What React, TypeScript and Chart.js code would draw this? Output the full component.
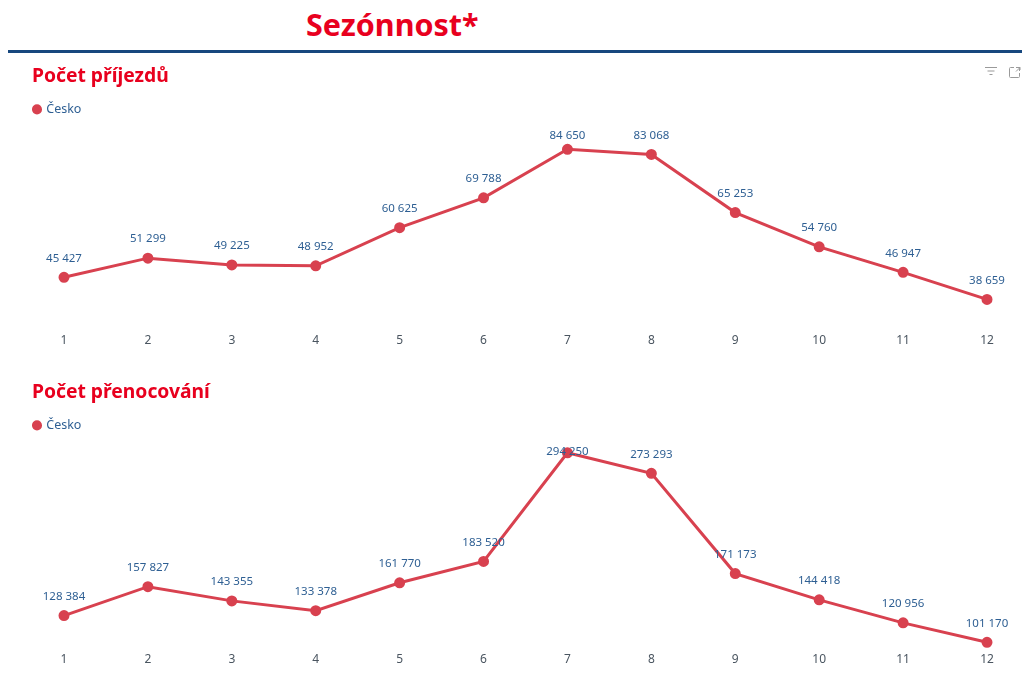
import React, { useEffect, useRef } from "react";
import { Chart, registerables } from "chart.js";

Chart.register(...registerables);

const months = ["1", "2", "3", "4", "5", "6", "7", "8", "9", "10", "11", "12"];
const arrivals = [45427, 51299, 49225, 48952, 60625, 69788, 84650, 83068, 65253, 54760, 46947, 38659];
const overnights = [128384, 157827, 143355, 133378, 161770, 183520, 294250, 273293, 171173, 144418, 120956, 101170];
const seriesName = "Česko";
const pageTitle = "Sezónnost*";
const arrivalsTitle = "Počet příjezdů";
const overnightsTitle = "Počet přenocování";

const FONT = '"Noto Sans", sans-serif';
const RED = "#E8001E";
const LINE = "#D8414F";
const BLUE = "#2E5F93";

const fmt = (v: number) => String(v).replace(/\B(?=(\d{3})+$)/g, " ");

const valueLabels = {
  id: "valueLabels",
  afterDatasetsDraw(chart: any) {
    const ctx = chart.ctx;
    const meta = chart.getDatasetMeta(0);
    const values = chart.data.datasets[0].data;
    ctx.save();
    ctx.font = `11.5px ${FONT}`;
    ctx.fillStyle = BLUE;
    ctx.textAlign = "center";
    ctx.textBaseline = "middle";
    meta.data.forEach((pt: any, i: number) => {
      const y = Math.max(pt.y - 19, chart.chartArea.top + 10.3);
      ctx.fillText(fmt(values[i]), pt.x, y);
    });
    ctx.restore();
  },
};

function Panel({ title, values, min, max, top, height, tickPadding, titleBottom }: any) {
  const ref = useRef<HTMLCanvasElement>(null);
  useEffect(() => {
    const chart = new Chart(ref.current!, {
      type: "line",
      plugins: [valueLabels],
      data: {
        labels: months,
        datasets: [
          {
            label: seriesName,
            data: values,
            borderColor: LINE,
            backgroundColor: LINE,
            borderWidth: 3,
            pointRadius: 4,
            pointHoverRadius: 4,
            tension: 0,
            clip: false,
          },
        ],
      },
      options: {
        animation: false,
        responsive: false,
        layout: { padding: { top: 0, right: 35, bottom: 0, left: 4 } },
        plugins: {
          tooltip: { enabled: false },
          title: {
            display: true,
            text: title,
            align: "start",
            color: RED,
            font: { family: FONT, size: 19.3, weight: "bold" },
            padding: { top: 0, bottom: titleBottom },
          },
          legend: {
            display: true,
            position: "top",
            align: "start",
            labels: {
              color: BLUE,
              font: { family: FONT, size: 12.5 },
              usePointStyle: true,
              pointStyle: "circle",
              boxWidth: 6,
              boxHeight: 5,
              padding: 2,
            },
          },
        },
        scales: {
          x: {
            offset: false,
            grid: { display: false },
            border: { display: false },
            ticks: { color: "#4A5560", font: { family: FONT, size: 12 }, padding: tickPadding, maxRotation: 0, autoSkip: false },
          },
          y: {
            min,
            max,
            grid: { display: false },
            border: { display: false },
            ticks: { display: false },
            afterFit(scale: any) {
              scale.width = 32;
            },
          },
        },
      },
    } as any);
    return () => chart.destroy();
  }, []);
  return <canvas ref={ref} width={994} height={height} style={{ position: "absolute", left: 28, top, display: "block" }} />;
}

export default function App() {
  useEffect(() => {
    document.body.style.margin = "0";
    document.body.style.background = "#fff";
  }, []);
  return (
    <div style={{ position: "relative", width: 1022, height: 676, overflow: "hidden", background: "#fff" }}>
      <div
        style={{
          position: "absolute",
          left: 306,
          top: 3,
          fontFamily: FONT,
          fontWeight: 700,
          fontSize: 30.5,
          lineHeight: "42px",
          color: RED,
          whiteSpace: "nowrap",
        }}
      >
        {pageTitle}
      </div>
      <div style={{ position: "absolute", left: 8, top: 50, width: 1014, height: 3, background: "#17477E" }} />
      <Panel title={arrivalsTitle} values={arrivals} min={31861} max={91885} top={65} height={287} tickPadding={4} titleBottom={13} />
      <Panel title={overnightsTitle} values={overnights} min={98818} max={305590} top={381} height={286} tickPadding={0} titleBottom={13} />
      <svg width="40" height="16" style={{ position: "absolute", left: 984, top: 64 }} fill="none" stroke="#9a9a9a" strokeWidth="1">
        <path d="M1 3.5H13M3.5 7H10.5M5.5 10.5H8.5" />
        <rect x="25.5" y="3.5" width="10" height="10" rx="1" />
        <path d="M31 2.5V8H37" stroke="#fff" strokeWidth="2" />
        <path d="M32 7.5L36 3.5M33.5 3.5H36V6" />
      </svg>
    </div>
  );
}
